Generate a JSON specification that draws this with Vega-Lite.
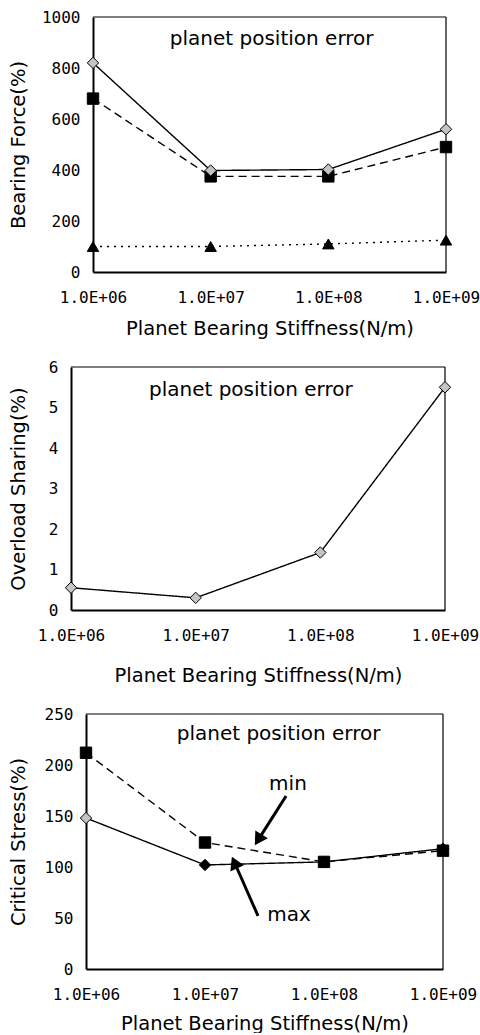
{
  "$schema": "https://vega.github.io/schema/vega-lite/v6.json",
  "padding": {"left": 8, "top": 9, "right": 0, "bottom": 0},
  "background": "white",
  "spacing": 21,
  "config": {
    "view": {"stroke": null},
    "axis": {
      "grid": false,
      "labelFont": "DejaVu Sans Mono",
      "labelFontSize": 16,
      "labelColor": "black",
      "titleFont": "DejaVu Sans",
      "titleFontSize": 19.5,
      "titleFontWeight": "normal",
      "titleColor": "black",
      "domain": true,
      "domainColor": "black",
      "domainWidth": 2,
      "ticks": false,
      "labelFlush": false,
      "labelOverlap": false,
      "labelBound": false
    },
    "text": {"font": "DejaVu Sans", "fontSize": 20, "color": "black"}
  },
  "datasets": {
    "force": [
      {"k": 1000000, "v": 100, "line": "dot", "marker": "tri"},
      {"k": 10000000, "v": 100, "line": "dot", "marker": "tri"},
      {"k": 100000000, "v": 110, "line": "dot", "marker": "tri"},
      {"k": 1000000000, "v": 125, "line": "dot", "marker": "tri"},
      {"k": 1000000, "v": 680, "line": "dash", "marker": "sq"},
      {"k": 10000000, "v": 375, "line": "dash", "marker": "sq"},
      {"k": 100000000, "v": 375, "line": "dash", "marker": "sq"},
      {"k": 1000000000, "v": 490, "line": "dash", "marker": "sq"},
      {"k": 1000000, "v": 820, "line": "solid", "marker": "gd"},
      {"k": 10000000, "v": 398, "line": "solid", "marker": "gd"},
      {"k": 100000000, "v": 402, "line": "solid", "marker": "gd"},
      {"k": 1000000000, "v": 560, "line": "solid", "marker": "gd"}
    ],
    "overload": [
      {"k": 1000000, "v": 0.55, "line": "solid", "marker": "gd"},
      {"k": 10000000, "v": 0.3, "line": "solid", "marker": "gd"},
      {"k": 100000000, "v": 1.42, "line": "solid", "marker": "gd"},
      {"k": 1000000000, "v": 5.5, "line": "solid", "marker": "gd"}
    ],
    "stress": [
      {"k": 1000000, "v": 148, "line": "solid", "marker": "gd"},
      {"k": 10000000, "v": 102, "line": "solid", "marker": "bd"},
      {"k": 100000000, "v": 105, "line": "solid", "marker": "bd"},
      {"k": 1000000000, "v": 118, "line": "solid", "marker": "bd"},
      {"k": 1000000, "v": 212, "line": "dash", "marker": "sq"},
      {"k": 10000000, "v": 124, "line": "dash", "marker": "sq"},
      {"k": 100000000, "v": 105, "line": "dash", "marker": "sq"},
      {"k": 1000000000, "v": 116, "line": "dash", "marker": "sq"}
    ],
    "frame1": [
      {"k": 1000000, "k2": 1000000000, "v": 1000, "v2": 1000},
      {"k": 1000000000, "k2": 1000000000, "v": 0, "v2": 1000}
    ],
    "frame2": [
      {"k": 1000000, "k2": 1000000000, "v": 6, "v2": 6},
      {"k": 1000000000, "k2": 1000000000, "v": 0, "v2": 6}
    ],
    "frame3": [
      {"k": 1000000, "k2": 1000000000, "v": 250, "v2": 250},
      {"k": 1000000000, "k2": 1000000000, "v": 0, "v2": 250}
    ],
    "arrows": [
      {"arrow": "min", "k": 48000000, "v": 169.6, "k2": 28000000, "v2": 126.6},
      {"arrow": "max", "k": 27900000, "v": 52, "k2": 17700000, "v2": 104.4}
    ],
    "notes1": [{"k": 33000000, "v": 914, "label": "planet position error"}],
    "notes2": [{"k": 27700000, "v": 5.43, "label": "planet position error"}],
    "notes3": [
      {"k": 41500000, "v": 230, "label": "planet position error"},
      {"k": 49800000, "v": 181, "label": "min"},
      {"k": 50800000, "v": 53, "label": "max"}
    ]
  },
  "vconcat": [
    {
      "width": 375,
      "height": 255,
      "data": {"name": "force"},
      "encoding": {
        "x": {"field": "k", "type": "quantitative", "scale": {"type": "log", "domain": [1000000, 1000000000], "nice": false, "range": [22, 375]},
          "axis": {"values": [1000000, 10000000, 100000000, 1000000000], "labelExpr": "'1.0E+0' + round(log(datum.value)/LN10)", "title": "Planet Bearing Stiffness(N/m)", "labelPadding": 17, "titlePadding": 14}},
        "y": {"field": "v", "type": "quantitative", "scale": {"domain": [0, 1000], "nice": false},
          "axis": {"values": [0, 200, 400, 600, 800, 1000], "format": "d", "title": "Bearing Force(%)", "offset": -22, "labelPadding": 13, "titlePadding": 13}}
      },
      "layer": [
        {"data": {"name": "frame1"}, "mark": {"type": "rule", "color": "black", "strokeWidth": 1.2},
          "encoding": {"x2": {"field": "k2"}, "y2": {"field": "v2"}}},
        {"mark": {"type": "line", "color": "black", "strokeWidth": 1.4},
          "encoding": {"detail": {"field": "line"}, "strokeDash": {"field": "line", "type": "nominal", "scale": {"domain": ["solid", "dash", "dot"], "range": [[1, 0], [8, 5], [2, 5]]}, "legend": null}}},
        {"mark": {"type": "point", "filled": true, "size": 130, "stroke": "black", "strokeWidth": 1, "opacity": 1},
          "encoding": {
            "shape": {"field": "marker", "type": "nominal", "scale": {"domain": ["gd", "bd", "sq", "tri"], "range": ["diamond", "diamond", "square", "triangle-up"]}, "legend": null},
            "fill": {"field": "marker", "type": "nominal", "scale": {"domain": ["gd", "bd", "sq", "tri"], "range": ["#c4c4c4", "black", "black", "black"]}, "legend": null}}},
        {"data": {"name": "notes1"}, "mark": {"type": "text"}, "encoding": {"text": {"field": "label"}}}
      ]
    },
    {
      "width": 374,
      "height": 243,
      "data": {"name": "overload"},
      "encoding": {
        "x": {"field": "k", "type": "quantitative", "scale": {"type": "log", "domain": [1000000, 1000000000], "nice": false},
          "axis": {"values": [1000000, 10000000, 100000000, 1000000000], "labelExpr": "'1.0E+0' + round(log(datum.value)/LN10)", "title": "Planet Bearing Stiffness(N/m)", "labelPadding": 17, "titlePadding": 23}},
        "y": {"field": "v", "type": "quantitative", "scale": {"domain": [0, 6], "nice": false},
          "axis": {"values": [0, 1, 2, 3, 4, 5, 6], "title": "Overload Sharing(%)", "labelPadding": 13, "titlePadding": 20}}
      },
      "layer": [
        {"data": {"name": "frame2"}, "mark": {"type": "rule", "color": "black", "strokeWidth": 1.2},
          "encoding": {"x2": {"field": "k2"}, "y2": {"field": "v2"}}},
        {"mark": {"type": "line", "color": "black", "strokeWidth": 1.4},
          "encoding": {"detail": {"field": "line"}, "strokeDash": {"field": "line", "type": "nominal", "scale": {"domain": ["solid", "dash", "dot"], "range": [[1, 0], [8, 5], [2, 5]]}, "legend": null}}},
        {"mark": {"type": "point", "filled": true, "size": 130, "stroke": "black", "strokeWidth": 1, "opacity": 1},
          "encoding": {
            "shape": {"field": "marker", "type": "nominal", "scale": {"domain": ["gd", "bd", "sq", "tri"], "range": ["diamond", "diamond", "square", "triangle-up"]}, "legend": null},
            "fill": {"field": "marker", "type": "nominal", "scale": {"domain": ["gd", "bd", "sq", "tri"], "range": ["#c4c4c4", "black", "black", "black"]}, "legend": null}}},
        {"data": {"name": "notes2"}, "mark": {"type": "text"}, "encoding": {"text": {"field": "label"}}}
      ]
    },
    {
      "width": 372,
      "height": 255,
      "data": {"name": "stress"},
      "encoding": {
        "x": {"field": "k", "type": "quantitative", "scale": {"type": "log", "domain": [1000000, 1000000000], "nice": false, "range": [15, 372]},
          "axis": {"values": [1000000, 10000000, 100000000, 1000000000], "labelExpr": "'1.0E+0' + round(log(datum.value)/LN10)", "title": "Planet Bearing Stiffness(N/m)", "labelPadding": 17, "titlePadding": 12}},
        "y": {"field": "v", "type": "quantitative", "scale": {"domain": [0, 250], "nice": false},
          "axis": {"values": [0, 50, 100, 150, 200, 250], "title": "Critical Stress(%)", "offset": -15, "labelPadding": 13, "titlePadding": 15.5}}
      },
      "layer": [
        {"data": {"name": "frame3"}, "mark": {"type": "rule", "color": "black", "strokeWidth": 1.2},
          "encoding": {"x2": {"field": "k2"}, "y2": {"field": "v2"}}},
        {"mark": {"type": "line", "color": "black", "strokeWidth": 1.4},
          "encoding": {"detail": {"field": "line"}, "strokeDash": {"field": "line", "type": "nominal", "scale": {"domain": ["solid", "dash", "dot"], "range": [[1, 0], [8, 5], [2, 5]]}, "legend": null}}},
        {"mark": {"type": "point", "filled": true, "size": 130, "stroke": "black", "strokeWidth": 1, "opacity": 1},
          "encoding": {
            "shape": {"field": "marker", "type": "nominal", "scale": {"domain": ["gd", "bd", "sq", "tri"], "range": ["diamond", "diamond", "square", "triangle-up"]}, "legend": null},
            "fill": {"field": "marker", "type": "nominal", "scale": {"domain": ["gd", "bd", "sq", "tri"], "range": ["#c4c4c4", "black", "black", "black"]}, "legend": null}}},
        {"data": {"name": "arrows"}, "mark": {"type": "rule", "color": "black", "strokeWidth": 3},
          "encoding": {"x2": {"field": "k2"}, "y2": {"field": "v2"}}},
        {"data": {"name": "arrows"}, "transform": [{"filter": "datum.arrow == 'min'"}],
          "mark": {"type": "point", "shape": "triangle-up", "filled": true, "color": "black", "opacity": 1, "size": 220, "angle": 212},
          "encoding": {"x": {"field": "k2", "type": "quantitative"}, "y": {"field": "v2", "type": "quantitative"}}},
        {"data": {"name": "arrows"}, "transform": [{"filter": "datum.arrow == 'max'"}],
          "mark": {"type": "point", "shape": "triangle-up", "filled": true, "color": "black", "opacity": 1, "size": 220, "angle": 336},
          "encoding": {"x": {"field": "k2", "type": "quantitative"}, "y": {"field": "v2", "type": "quantitative"}}},
        {"data": {"name": "notes3"}, "mark": {"type": "text"}, "encoding": {"text": {"field": "label"}}}
      ]
    }
  ]
}
